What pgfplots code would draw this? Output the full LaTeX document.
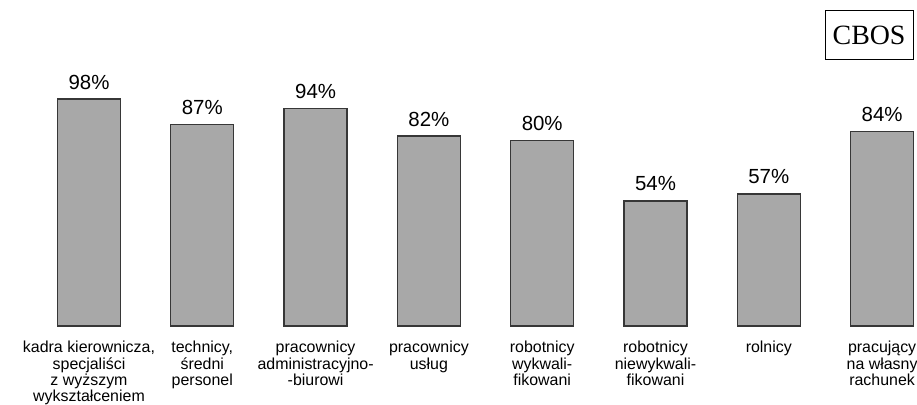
\documentclass[border=0pt]{standalone}
\usepackage{fontspec}
\setmainfont{Liberation Sans}
\newfontfamily\cbosfont{Liberation Serif}
\usepackage{pgfplots}
\pgfplotsset{compat=1.18}
\definecolor{barfill}{RGB}{168,168,168}
\definecolor{barline}{RGB}{55,55,55}
\begin{document}
\begin{tikzpicture}
\begin{axis}[
  scale only axis,
  width=917bp, height=326bp,
  xmin=-0.7855, xmax=7.308,
  ymin=0, ymax=140.76,
  clip=false,
  axis line style={draw=none},
  ytick=\empty,
  xtick={0,1,2,3,4,5,6,7},
  major tick length=0pt,
  xticklabels={
    {\strut kadra kierownicza,\\specjaliści\\z wyższym\\wykształceniem},
    {\strut technicy,\\średni\\personel},
    {\strut pracownicy\\administracyjno-\\-biurowi},
    {\strut pracownicy\\usług},
    {\strut robotnicy\\wykwali-\\fikowani},
    {\strut robotnicy\\niewykwali-\\fikowani},
    {\strut rolnicy},
    {\strut pracujący\\na własny\\rachunek}},
  xticklabel style={anchor=north, align=center, inner sep=0pt, yshift=-14.5bp,
    font=\fontsize{16}{15.8}\selectfont},
  /pgf/number format/assume math mode=true,
  nodes near coords={\pgfmathprintnumber{\pgfplotspointmeta}\%},
  nodes near coords style={anchor=base, inner sep=0pt, yshift=10bp,
    font=\fontsize{20.5}{22}\selectfont},
]
\addplot[ybar, bar width=63bp, fill=barfill, draw=barline, line width=1.3bp]
coordinates {(0,98) (1,87) (2,94) (3,82) (4,80) (5,54) (6,57) (7,84)};
\draw[black, line width=0.9bp] (axis cs:6.496,115.3) rectangle (axis cs:7.273,136.4);
\node[font=\cbosfont\fontsize{28}{30}\selectfont] at (axis cs:6.885,125.6) {CBOS};
\coordinate (bl) at (axis cs:-0.7855,-34.11);
\coordinate (tr) at (axis cs:7.308,140.76);
\end{axis}
\pgfresetboundingbox
\useasboundingbox (bl) rectangle (tr);
\end{tikzpicture}
\end{document}
